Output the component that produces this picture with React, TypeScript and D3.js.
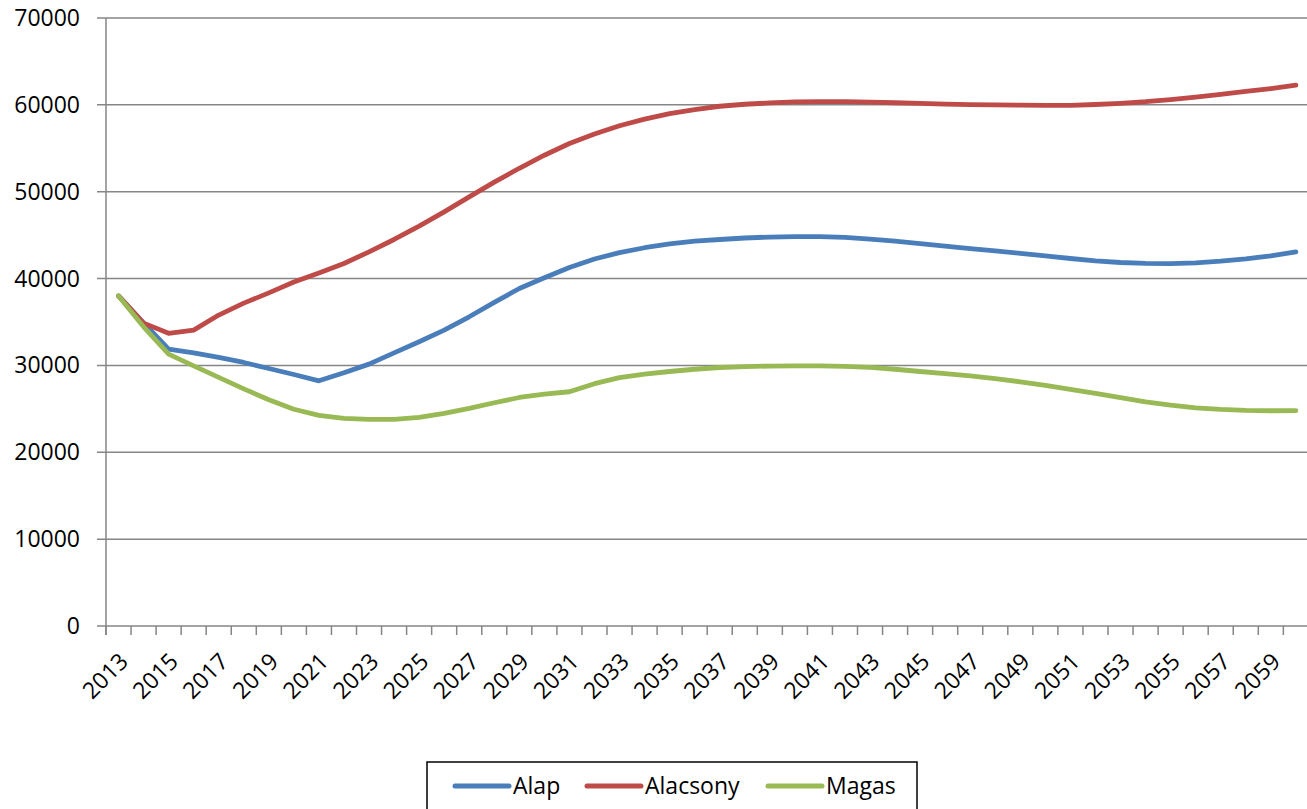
import React from "react";
import * as d3 from "d3";

const years: number[] = d3.range(2013, 2061);
const alap: number[] = [
  38000, 34900, 31870, 31450, 30920, 30340, 29650, 28960, 28230, 29150,
  30150, 31450, 32720, 34060, 35600, 37250, 38860, 40090, 41280, 42250,
  42980, 43550, 44000, 44300, 44500, 44670, 44780, 44840, 44840, 44740,
  44550, 44300, 44020, 43740, 43450, 43180, 42900, 42610, 42310, 42040,
  41850, 41740, 41730, 41810, 42000, 42270, 42620, 43080,
];
const alacsony: number[] = [
  38000, 34870, 33700, 34060, 35800, 37170, 38350, 39600, 40650, 41740,
  43080, 44500, 46030, 47680, 49400, 51100, 52700, 54200, 55550, 56650,
  57600, 58350, 59000, 59460, 59840, 60070, 60220, 60340, 60380, 60380,
  60320, 60240, 60160, 60080, 60020, 59990, 59970, 59950, 59950, 60040,
  60180, 60360, 60610, 60900, 61220, 61540, 61880, 62260,
];
const magas: number[] = [
  38000, 34450, 31300, 29950, 28620, 27300, 26050, 24950, 24250, 23900,
  23790, 23790, 24010, 24470, 25050, 25700, 26310, 26700, 26970, 27900,
  28600, 29000, 29300, 29560, 29760, 29860, 29930, 29960, 29960, 29890,
  29770, 29560, 29300, 29060, 28790, 28480, 28120, 27700, 27240, 26780,
  26280, 25810, 25430, 25120, 24930, 24820, 24780, 24790,
];
const yTicks: number[] = [0, 10000, 20000, 30000, 40000, 50000, 60000, 70000];
const seriesNames: string[] = ["Alap", "Alacsony", "Magas"];
const seriesColors: string[] = ["#4A7EBB", "#BE4B48", "#98B954"];

export default function App() {
  const font = "'Open Sans', sans-serif";
  const left = 106;
  const right = 106 + 48 * 25.05;
  const top = 18;
  const bottom = 626;
  const x = d3.scaleBand<number>().domain(years).range([left, right]).padding(0);
  const y = d3.scaleLinear().domain([0, 70000]).range([bottom, top]);
  const cx = (yr: number) => (x(yr) as number) + x.bandwidth() / 2;
  const seriesData = [alap, alacsony, magas];
  const line = d3
    .line<number>()
    .x((_, i) => cx(years[i]))
    .y((d) => y(d))
    .curve(d3.curveLinear);
  const grid = "#868686";
  const legendX = [455, 587, 768];
  return (
    <svg
      width={1307}
      height={809}
      style={{ position: "absolute", left: 0, top: 0, background: "#fff" }}
      fontFamily={font}
    >
      {yTicks.map((t) => (
        <g key={t}>
          <line x1={97} x2={right} y1={y(t)} y2={y(t)} stroke={grid} strokeWidth={1.5} />
          <text x={80} y={y(t)} dy="0.35em" textAnchor="end" fontSize={23} fill="#000">
            {t}
          </text>
        </g>
      ))}
      <line x1={left} x2={left} y1={top} y2={bottom + 9} stroke={grid} strokeWidth={1.5} />
      {years.map((yr) => (
        <line
          key={"t" + yr}
          x1={x(yr) as number}
          x2={x(yr) as number}
          y1={bottom}
          y2={bottom + 9}
          stroke={grid}
          strokeWidth={1.5}
        />
      ))}
      {years
        .filter((yr) => (yr - 2013) % 2 === 0)
        .map((yr) => (
          <text
            key={"l" + yr}
            transform={`translate(${cx(yr) + 11},${bottom + 37}) rotate(-45)`}
            textAnchor="end"
            fontSize={23}
            fill="#000"
          >
            {yr}
          </text>
        ))}
      {seriesData.map((s, i) => (
        <path
          key={seriesNames[i]}
          d={line(s) || ""}
          fill="none"
          stroke={seriesColors[i]}
          strokeWidth={4.8}
          strokeLinejoin="round"
          strokeLinecap="round"
        />
      ))}
      <rect x={427} y={762} width={490} height={60} fill="#fff" stroke="#000" strokeWidth={1.5} />
      {seriesNames.map((n, i) => (
        <g key={"lg" + n}>
          <line
            x1={legendX[i]}
            x2={legendX[i] + 54}
            y1={786}
            y2={786}
            stroke={seriesColors[i]}
            strokeWidth={5}
            strokeLinecap="round"
          />
          <text x={legendX[i] + 58} y={786} dy="0.35em" fontSize={23} fill="#000">
            {n}
          </text>
        </g>
      ))}
    </svg>
  );
}
